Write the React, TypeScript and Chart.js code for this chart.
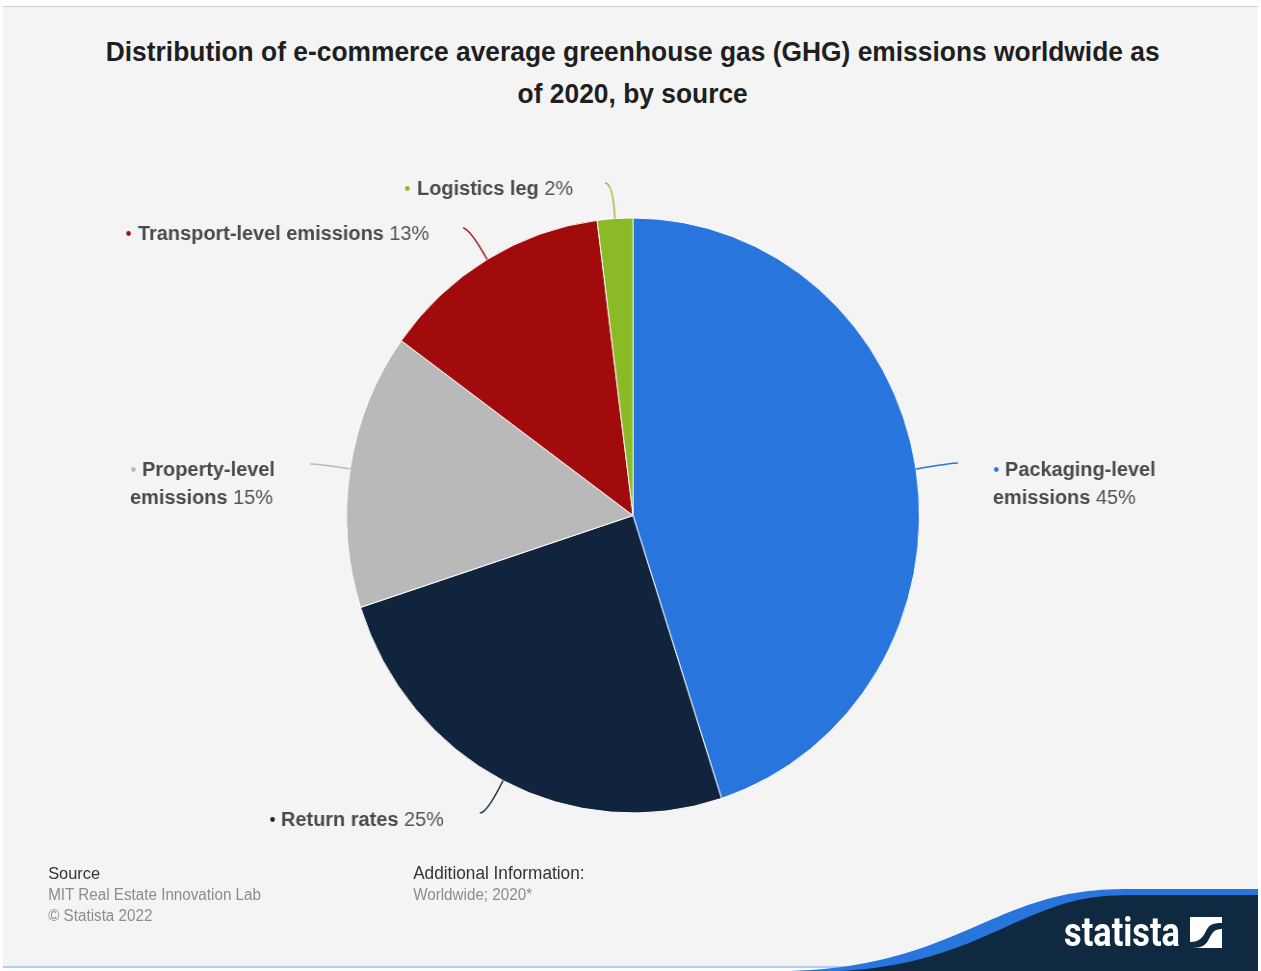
import React, { useEffect, useRef } from "react";
import { Chart, registerables } from "chart.js";

Chart.register(...registerables);

// ---------------- data ----------------
const categories = [
  "Packaging-level emissions",
  "Return rates",
  "Property-level emissions",
  "Transport-level emissions",
  "Logistics leg",
];
const shares = [45, 25, 15, 13, 2];
const sliceColors = ["#2876dd", "#10253d", "#b9b9b9", "#a20b0b", "#8abb26"];
const titleLines = [
  "Distribution of e-commerce average greenhouse gas (GHG) emissions worldwide as",
  "of 2020, by source",
];
const sourceHeading = "Source";
const sourceLines = ["MIT Real Estate Innovation Lab", "© Statista 2022"];
const infoHeading = "Additional Information:";
const infoLines = ["Worldwide; 2020*"];

// ---------------- layout (unscaled coords) ----------------
const SX = 0.963; // horizontal squeeze of the reference
const W = 1310;
const H = 971;

type LabelPos = {
  endX: number;
  endY: number;
  dotX: number;
  textX: number;
  y: number;
  line2X?: number;
  breakAfter?: number;
};
const labelLayout: LabelPos[] = [
  { endX: 994.8, endY: 463, dotX: 1034.5, textX: 1043.6, y: 470.5, line2X: 1031, breakAfter: 1 },
  { endX: 498.4, endY: 813, dotX: 283, textX: 291.8, y: 820.5 },
  { endX: 322, endY: 464, dotX: 138.5, textX: 147.5, y: 470.5, line2X: 135, breakAfter: 1 },
  { endX: 480.8, endY: 228, dotX: 133.5, textX: 143.3, y: 234.5 },
  { endX: 628.3, endY: 183, dotX: 423, textX: 433, y: 189.5 },
];

const LABEL_FONT = "'Liberation Sans', Arial, sans-serif";
const LABEL_SIZE = 20.7;
const LINE_H = 28;

const outLabels = {
  id: "outLabels",
  afterDatasetsDraw(chart: any) {
    const ctx: CanvasRenderingContext2D = chart.ctx;
    const meta = chart.getDatasetMeta(0);
    const values: number[] = chart.data.datasets[0].data;
    const labels: string[] = chart.data.labels;
    const colors: string[] = chart.data.datasets[0].backgroundColor;
    ctx.save();
    meta.data.forEach((arc: any, i: number) => {
      const p = arc.getProps(["x", "y", "startAngle", "endAngle", "outerRadius"], true);
      const lay = labelLayout[i];
      const mid = (p.startAngle + p.endAngle) / 2;
      const ex = p.x + p.outerRadius * Math.cos(mid);
      const ey = p.y + p.outerRadius * Math.sin(mid);
      // connector
      let t = Math.abs(Math.sin(mid)) > 0.05 ? (lay.endY - ey) / Math.sin(mid) : 20;
      const dist = Math.hypot(lay.endX - ex, lay.endY - ey);
      if (t < 0) t = 0;
      if (t > dist) t = dist;
      const cx = ex + t * Math.cos(mid);
      const cy = ey + t * Math.sin(mid);
      ctx.beginPath();
      ctx.moveTo(ex, ey);
      ctx.quadraticCurveTo(cx, cy, lay.endX, lay.endY);
      ctx.strokeStyle = colors[i];
      ctx.lineWidth = 1.4;
      ctx.stroke();

      // dot
      ctx.beginPath();
      ctx.arc(lay.dotX, lay.y - 1, 2.4, 0, Math.PI * 2);
      ctx.fillStyle = colors[i];
      ctx.fill();

      // text
      const words = labels[i].split(" ");
      const pct = " " + values[i] + "%";
      let lines: { t: string; b: boolean }[][];
      if (lay.breakAfter) {
        lines = [
          [{ t: words.slice(0, lay.breakAfter).join(" "), b: true }],
          [
            { t: words.slice(lay.breakAfter).join(" "), b: true },
            { t: pct, b: false },
          ],
        ];
      } else {
        lines = [[{ t: labels[i], b: true }, { t: pct, b: false }]];
      }
      ctx.textBaseline = "middle";
      ctx.textAlign = "left";
      lines.forEach((segs, li) => {
        let x = li === 0 ? lay.textX : lay.line2X ?? lay.textX;
        const y = lay.y + li * LINE_H;
        segs.forEach((s) => {
          ctx.font = `${s.b ? "bold " : ""}${LABEL_SIZE}px ${LABEL_FONT}`;
          ctx.fillStyle = s.b ? "#4a4a4a" : "#555555";
          ctx.fillText(s.t, x, y);
          x += ctx.measureText(s.t).width;
        });
      });
    });
    ctx.restore();
  },
};

function PieChart() {
  const ref = useRef<HTMLCanvasElement | null>(null);
  useEffect(() => {
    if (!ref.current) return;
    const cxU = 633 / SX;
    const cy = 515.5;
    const r = 298;
    const chart = new Chart(ref.current, {
      type: "pie",
      data: {
        labels: categories,
        datasets: [
          {
            data: shares,
            backgroundColor: sliceColors,
            borderColor: "#ffffff",
            borderWidth: 1,
          },
        ],
      },
      options: {
        responsive: false,
        animation: false,
        devicePixelRatio: 1,
        layout: {
          padding: {
            top: cy - r,
            bottom: H - (cy + r),
            left: cxU - 400,
            right: W - (cxU + 400),
          },
        },
        plugins: {
          legend: { display: false },
          tooltip: { enabled: false },
          title: { display: false },
        },
      },
      plugins: [outLabels],
    });
    return () => chart.destroy();
  }, []);
  return (
    <canvas
      ref={ref}
      width={W}
      height={H}
      style={{ position: "absolute", left: 0, top: 0, width: W, height: H }}
    />
  );
}

export default function App() {
  const footHead: React.CSSProperties = {
    fontFamily: "'Liberation Sans', Arial, sans-serif",
    fontSize: 17,
    color: "#333",
    lineHeight: "21px",
  };
  const footLine: React.CSSProperties = {
    fontFamily: "'Liberation Sans', Arial, sans-serif",
    fontSize: 15.8,
    color: "#8c8c8c",
    lineHeight: "21px",
  };
  return (
    <div
      style={{
        position: "fixed",
        left: 0,
        top: 0,
        width: 1261,
        height: 971,
        overflow: "hidden",
        background: "#ffffff",
      }}
    >
      <div
        style={{
          position: "absolute",
          left: 0,
          top: 0,
          width: W,
          height: H,
          transform: `scaleX(${SX})`,
          transformOrigin: "0 0",
        }}
      >
        <div
          style={{
            position: "absolute",
            left: 3,
            top: 6,
            width: 1306 - 3,
            height: 968 - 6,
            background: "#f4f4f4",
            borderTop: "1px solid #d2d2d2",
            boxSizing: "border-box",
          }}
        />
        <div
          style={{
            position: "absolute",
            left: 3,
            top: 966,
            width: 1306 - 3,
            height: 2,
            background: "#b4cdef",
          }}
        />
        <div
          style={{
            position: "absolute",
            left: 0,
            top: 31,
            width: 1314,
            textAlign: "center",
            fontFamily: "'Liberation Sans', Arial, sans-serif",
            fontWeight: 700,
            fontSize: 27.4,
            lineHeight: "42px",
            color: "#1f1f1f",
          }}
        >
          {titleLines.map((l, i) => (
            <div key={i}>{l}</div>
          ))}
        </div>
        <PieChart />
        <div style={{ position: "absolute", left: 50, top: 863 }}>
          <div style={footHead}>{sourceHeading}</div>
          {sourceLines.map((l, i) => (
            <div key={i} style={footLine}>
              {l}
            </div>
          ))}
        </div>
        <div style={{ position: "absolute", left: 429, top: 863 }}>
          <div style={{ ...footHead, fontSize: 17.9 }}>{infoHeading}</div>
          {infoLines.map((l, i) => (
            <div key={i} style={footLine}>
              {l}
            </div>
          ))}
        </div>
      </div>
      <svg
        width={1261}
        height={971}
        style={{ position: "absolute", left: 0, top: 0, pointerEvents: "none" }}
      >
        <path
          d="M 790 971 C 905 968 960 930 1020 908 C 1060 893 1090 889 1130 889 L 1258 889 L 1258 971 Z"
          fill="#2876dd"
        />
        <path
          d="M 840 971 C 938 966 985 934 1038 913 C 1072 899 1096 895 1136 895 L 1258 895 L 1258 971 Z"
          fill="#0e2940"
        />
        <text
          x={1064}
          y={946}
          textLength={116}
          lengthAdjust="spacingAndGlyphs"
          fill="#ffffff"
          fontFamily="Roboto, 'Liberation Sans', Arial, sans-serif"
          fontWeight={700}
          fontSize={40}
        >
          statista
        </text>
        <rect x={1190} y={917} width={32} height={31} fill="#ffffff" />
        <path
          d="M 1190 948 L 1190 942 C 1200 942 1203 937 1206 931 C 1209 925 1212 923 1222 923 L 1222 917 L 1222 917 L 1222 929 C 1214 929 1212 933 1209 939 C 1206 945 1202 948 1192 948 Z"
          fill="#0e2940"
        />
      </svg>
    </div>
  );
}
